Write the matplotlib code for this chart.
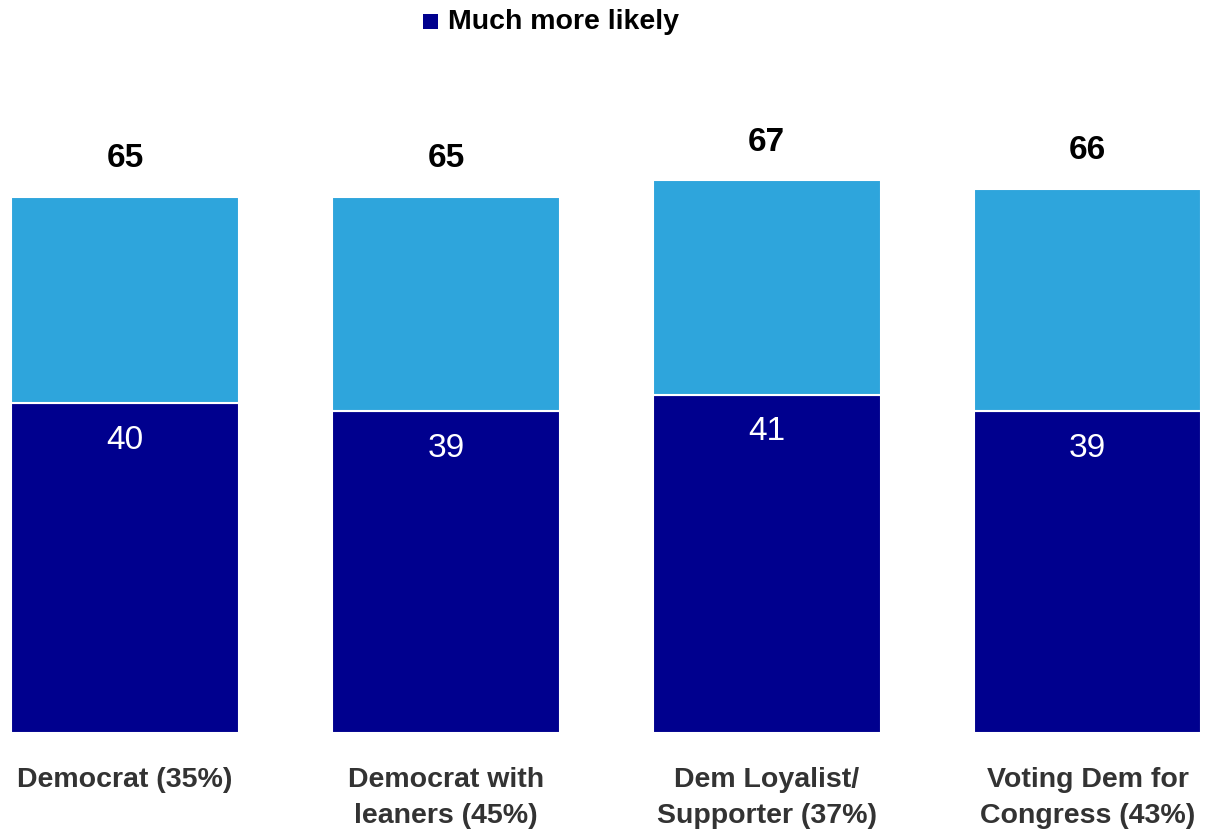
import numpy as np
import matplotlib
matplotlib.use("Agg")
import matplotlib.pyplot as plt
from matplotlib.patches import Rectangle

plt.rcParams["font.family"] = ["Liberation Sans", "DejaVu Sans"]

NAVY = "#00008e"
LIGHT = "#2ea5dc"

categories = ["Democrat (35%)", "Democrat with\nleaners (45%)",
              "Dem Loyalist/\nSupporter (37%)", "Voting Dem for\nCongress (43%)"]
much_more = [40, 39, 41, 39]
totals = [65, 65, 67, 66]
somewhat = [t - m for t, m in zip(totals, much_more)]

fig = plt.figure(figsize=(12.19, 8.33), dpi=100)
ax = fig.add_axes([0, 0.12, 1, 0.88])

x = np.arange(len(categories))
width = 0.71
ax.bar(x, much_more, width, color=NAVY, edgecolor="white", linewidth=1.5)
ax.bar(x, somewhat, width, bottom=much_more, color=LIGHT, edgecolor="white", linewidth=1.5)

for i in range(len(x)):
    ax.text(x[i], much_more[i] - 4.5, str(much_more[i]), ha="center", va="center",
            color="white", fontsize=24)
    ax.text(x[i], totals[i] + 4.6, str(totals[i]), ha="center", va="center",
            color="black", fontsize=24, fontweight="bold")
    ax.text(x[i], -4.1, categories[i], ha="center", va="top", color="#333333",
            fontsize=20.5, fontweight="bold", linespacing=1.5)

ax.set_xlim(-0.39, 3.41)
ax.set_ylim(0, 88.85)
ax.axis("off")

# legend (only the first series is shown)
fig.patches.append(Rectangle((423 / 1219, 1 - 29 / 833), 15 / 1219, 15 / 833,
                             transform=fig.transFigure, facecolor=NAVY, edgecolor="none"))
fig.text(448 / 1219, 1 - 22 / 833, "Much more likely", ha="left", va="center",
         fontsize=20.5, fontweight="bold", color="black")

fig.savefig("out.png", dpi=100)
